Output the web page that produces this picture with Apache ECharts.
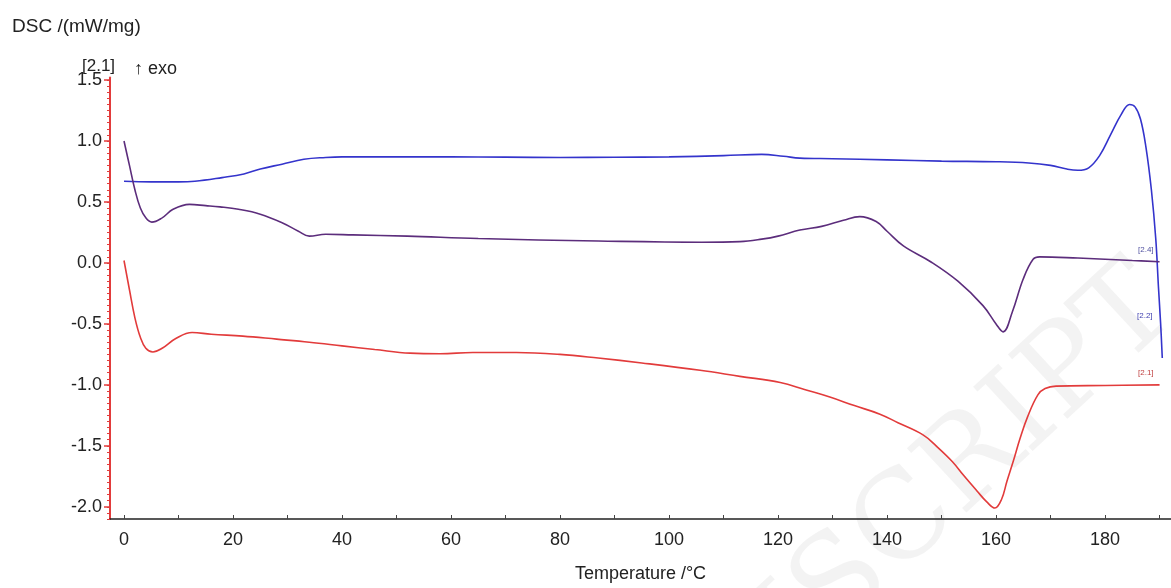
<!DOCTYPE html>
<html>
<head>
<meta charset="utf-8">
<script src="https://cdn.jsdelivr.net/npm/echarts@6/dist/echarts.min.js"></script>
<style>
  html, body { margin: 0; padding: 0; background: #fff; }
  #chart { width: 1171px; height: 588px; }
</style>
</head>
<body>
<div id="chart"></div>
<script>
// temperature (°C) / DSC (mW/mg) pairs
const curveBlue = [
  [0, 0.67], [5, 0.665], [10, 0.665], [13, 0.67], [18, 0.70], [22, 0.73], [25, 0.77],
  [29, 0.81], [33, 0.85], [37, 0.865], [40, 0.87], [50, 0.87], [60, 0.87], [70, 0.868],
  [80, 0.865], [90, 0.867], [100, 0.87], [110, 0.88], [117, 0.89], [121, 0.875],
  [124, 0.86], [130, 0.855], [140, 0.845], [150, 0.835], [160, 0.83], [166, 0.82],
  [170, 0.80], [173, 0.77], [175, 0.76], [177, 0.78], [179, 0.88], [181, 1.05],
  [183, 1.22], [184.5, 1.30], [185.5, 1.28], [186.5, 1.18], [187.5, 0.95],
  [188.5, 0.60], [189.3, 0.20], [189.8, -0.20], [190.2, -0.50], [190.5, -0.78]
];
const curvePurple = [
  [0, 1.0], [1, 0.80], [2, 0.60], [3, 0.45], [4, 0.37], [5.1, 0.335], [7, 0.37],
  [9, 0.44], [12, 0.48], [15, 0.47], [17.6, 0.46], [21, 0.44], [25, 0.40], [29, 0.33],
  [32, 0.26], [34, 0.22], [37, 0.235], [42, 0.23], [52, 0.22], [65, 0.20], [87, 0.18],
  [106, 0.17], [113, 0.175], [117, 0.195], [120, 0.22], [124, 0.27], [128, 0.30],
  [132, 0.35], [135, 0.38], [138, 0.34], [140, 0.26], [143, 0.14], [148, 0.01],
  [153, -0.15], [157.6, -0.35], [160, -0.50], [161.3, -0.565], [163, -0.40],
  [165, -0.13], [166.8, 0.03], [168, 0.05], [175, 0.04], [185, 0.02], [190, 0.01]
];
const curveRed = [
  [0, 0.02], [1, -0.22], [2, -0.45], [3, -0.61], [4, -0.70], [5.3, -0.73], [7, -0.70],
  [9.5, -0.62], [12.5, -0.57], [16, -0.585], [21.8, -0.60], [28, -0.625], [34, -0.65],
  [40, -0.68], [46, -0.71], [52.5, -0.74], [58, -0.745], [64, -0.735], [72, -0.735],
  [80, -0.75], [87, -0.78], [95, -0.82], [105.7, -0.88], [113, -0.93], [120.4, -0.98],
  [125, -1.04], [129.5, -1.10], [134, -1.17], [138.7, -1.24], [142, -1.31],
  [146.6, -1.41], [149, -1.50], [152, -1.63], [154, -1.74], [156.5, -1.87],
  [158.3, -1.96], [159.8, -2.01], [161, -1.94], [162, -1.79], [163.2, -1.62],
  [164.4, -1.44], [165.8, -1.26], [167.7, -1.08], [169, -1.03], [171, -1.01],
  [180, -1.005], [190, -1.0]
];

const xTicks = [0, 20, 40, 60, 80, 100, 120, 140, 160, 180];
const xMinorTicks = [0, 10, 20, 30, 40, 50, 60, 70, 80, 90, 100, 110, 120, 130, 140, 150, 160, 170, 180, 190];
const yTicks = [-2.0, -1.5, -1.0, -0.5, 0.0, 0.5, 1.0, 1.5];

const xMin = -2.57, xMax = 192.1;
const yMin = -2.1, yMax = 1.52;

// dense red minor ticks on the DSC axis, every 0.05
const yMinorTicks = [];
for (let k = -42; k <= 30; k++) yMinorTicks.push(+(k * 0.05).toFixed(2));

const blue = '#3434cc';
const purple = '#5c2d7c';
const red = '#e23b3b';
const font = 'Liberation Sans, Arial, sans-serif';

const chart = echarts.init(document.getElementById('chart'));

chart.setOption({
  backgroundColor: '#fff',
  animation: false,
  grid: { left: 110, right: 0, top: 77.6, bottom: 66 },
  xAxis: {
    type: 'value',
    min: xMin,
    max: xMax,
    name: 'Temperature /°C',
    nameLocation: 'middle',
    nameGap: 46,
    nameTextStyle: { color: '#222', fontSize: 18, fontFamily: font },
    axisLine: { onZero: false, lineStyle: { color: '#222', width: 1.5 } },
    axisTick: { customValues: xMinorTicks, length: 4, inside: true, lineStyle: { color: '#444' } },
    axisLabel: {
      customValues: xTicks,
      color: '#222',
      fontSize: 18,
      fontFamily: font,
      margin: 12
    },
    splitLine: { show: false }
  },
  yAxis: [
    {
      type: 'value',
      min: yMin,
      max: yMax,
      axisLine: { show: true, onZero: false, lineStyle: { color: red, width: 2 } },
      axisTick: { customValues: yTicks, length: 6, lineStyle: { color: red, width: 1.5 } },
      axisLabel: {
        customValues: yTicks,
        color: '#222',
        fontSize: 18,
        fontFamily: font,
        margin: 8,
        formatter: v => v.toFixed(1)
      },
      splitLine: { show: false }
    },
    {
      type: 'value',
      min: yMin,
      max: yMax,
      position: 'left',
      offset: 0,
      axisLine: { show: false, onZero: false },
      axisTick: { customValues: yMinorTicks, length: 3, lineStyle: { color: red, width: 1 } },
      axisLabel: { show: false },
      splitLine: { show: false }
    }
  ],
  series: [
    {
      name: '[2.4]',
      type: 'line',
      data: curveBlue,
      showSymbol: false,
      smooth: 0.4,
      lineStyle: { color: blue, width: 1.6 }
    },
    {
      name: '[2.2]',
      type: 'line',
      data: curvePurple,
      showSymbol: false,
      smooth: 0.4,
      lineStyle: { color: purple, width: 1.6 }
    },
    {
      name: '[2.1]',
      type: 'line',
      data: curveRed,
      showSymbol: false,
      smooth: 0.4,
      lineStyle: { color: red, width: 1.6 }
    }
  ],
  graphic: [
    {
      type: 'text', left: 12, top: 17,
      style: { text: 'DSC /(mW/mg)', fill: '#222', fontSize: 19, fontFamily: font }
    },
    {
      type: 'text', left: 82, top: 58,
      style: { text: '[2.1]', fill: '#222', fontSize: 17, fontFamily: font }
    },
    {
      type: 'text', left: 134, top: 60,
      style: { text: '↑ exo', fill: '#222', fontSize: 18, fontFamily: font }
    },
    {
      type: 'text', left: 1138, top: 246,
      style: { text: '[2.4]', fill: '#5050a0', fontSize: 8, fontFamily: font }
    },
    {
      type: 'text', left: 1137, top: 312,
      style: { text: '[2.2]', fill: '#4040b0', fontSize: 8, fontFamily: font }
    },
    {
      type: 'text', left: 1138, top: 369,
      style: { text: '[2.1]', fill: '#c04040', fontSize: 8, fontFamily: font }
    },
    {
      type: 'text', x: 1200, y: 335, rotation: Math.PI / 4.2, z: -1, silent: true,
      style: {
        text: 'ACCEPTED MANUSCRIPT', align: 'right', verticalAlign: 'bottom',
        fill: 'rgba(190,190,190,0.18)', fontSize: 120, fontFamily: 'DejaVu Serif'
      }
    }
  ]
});
</script>
</body>
</html>
